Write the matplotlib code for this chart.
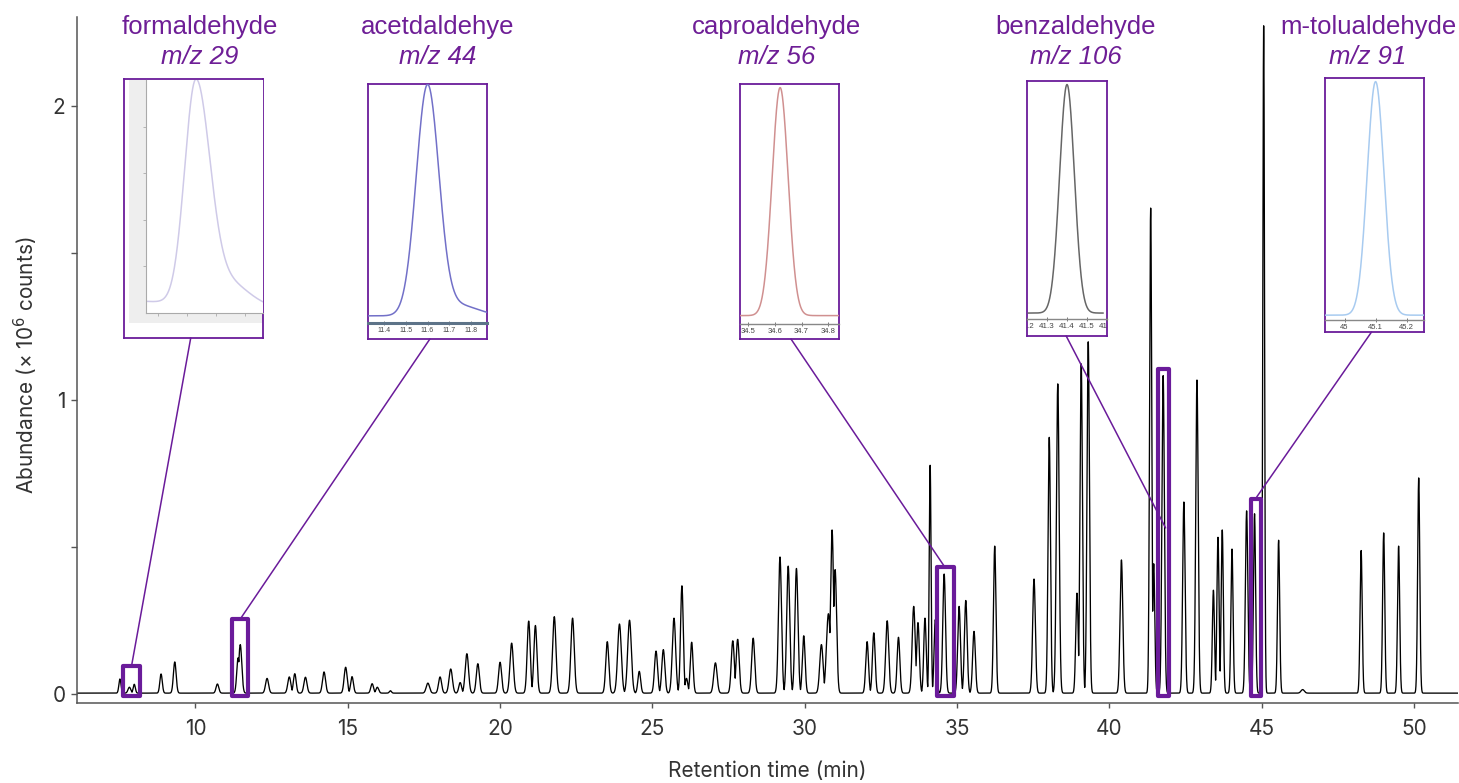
import numpy as np
import matplotlib
matplotlib.use("Agg")
import matplotlib.pyplot as plt
from matplotlib.patches import Rectangle, ConnectionPatch

W, H = 1459, 783
PURPLE = "#6a1b9a"
LABEL_PURPLE = "#6e1e96"

# TIC peaks: retention time (min), apex height (x10^6 counts), width (min)
peak_rt = [7.52, 7.83, 7.99, 8.87, 9.32, 10.72, 11.40, 11.47, 12.35, 13.08,
           13.26, 13.61, 14.22, 14.93, 15.14, 15.80, 15.97, 16.40, 17.63, 18.03,
           18.38, 18.69, 18.91, 19.27, 20.00, 20.38, 20.94, 21.16, 21.78, 22.38,
           23.52, 23.92, 24.25, 24.57, 25.12, 25.36, 25.71, 25.97, 26.12, 26.29,
           27.07, 27.64, 27.80, 28.31, 29.19, 29.46, 29.73, 29.97, 30.55, 30.78,
           30.90, 31.00, 32.05, 32.27, 32.71, 33.08, 33.58, 33.72, 33.95, 34.12,
           34.29, 34.58, 35.07, 35.29, 35.56, 36.24, 37.53, 38.03, 38.31, 38.94,
           39.08, 39.31, 40.40, 41.36, 41.46, 41.77, 42.45, 42.88, 43.42, 43.57,
           43.71, 44.03, 44.51, 44.77, 45.07, 45.56, 46.35, 48.27, 49.01, 49.50,
           50.16]
peak_height = [0.048, 0.020, 0.030, 0.065, 0.106, 0.031, 0.120, 0.165, 0.050, 0.055,
               0.066, 0.054, 0.072, 0.088, 0.056, 0.032, 0.020, 0.008, 0.034, 0.055,
               0.082, 0.036, 0.134, 0.100, 0.105, 0.170, 0.245, 0.230, 0.260, 0.255,
               0.175, 0.235, 0.248, 0.074, 0.143, 0.148, 0.255, 0.365, 0.050, 0.173,
               0.103, 0.178, 0.183, 0.187, 0.463, 0.432, 0.424, 0.195, 0.165, 0.270,
               0.555, 0.420, 0.175, 0.205, 0.246, 0.190, 0.295, 0.240, 0.255, 0.775,
               0.250, 0.405, 0.295, 0.315, 0.210, 0.500, 0.388, 0.870, 1.052, 0.340,
               1.120, 1.195, 0.453, 1.650, 0.440, 1.080, 0.650, 1.065, 0.350, 0.530,
               0.555, 0.490, 0.620, 0.610, 2.270, 0.520, 0.012, 0.485, 0.545, 0.500,
               0.732]
peak_width = [0.035, 0.045, 0.035, 0.040, 0.045, 0.045, 0.045, 0.050, 0.050, 0.050,
              0.045, 0.050, 0.050, 0.050, 0.045, 0.045, 0.045, 0.035, 0.055, 0.050,
              0.055, 0.045, 0.055, 0.050, 0.050, 0.055, 0.050, 0.050, 0.055, 0.055,
              0.050, 0.060, 0.060, 0.045, 0.050, 0.050, 0.055, 0.045, 0.045, 0.045,
              0.055, 0.050, 0.050, 0.050, 0.050, 0.050, 0.050, 0.045, 0.055, 0.065,
              0.050, 0.050, 0.045, 0.045, 0.050, 0.045, 0.050, 0.045, 0.040, 0.030,
              0.040, 0.045, 0.045, 0.045, 0.045, 0.040, 0.045, 0.040, 0.045, 0.040,
              0.040, 0.040, 0.045, 0.035, 0.035, 0.040, 0.040, 0.040, 0.035, 0.035,
              0.035, 0.035, 0.040, 0.035, 0.028, 0.035, 0.055, 0.035, 0.035, 0.035,
              0.035]

# aldehydes with their extracted-ion chromatograms
names = ["formaldehyde", "acetdaldehye", "caproaldehyde", "benzaldehyde", "m-tolualdehyde"]
mz_labels = ["m/z 29", "m/z 44", "m/z 56", "m/z 106", "m/z 91"]
eic_colors = ["#cfcae8", "#7270c8", "#d09090", "#666666", "#a8cbf0"]
# retention windows marked on the TIC
win_start = [7.62, 11.21, 34.33, 41.59, 44.65]
win_end = [8.18, 11.73, 34.89, 41.95, 44.98]
win_top = [0.095, 0.255, 0.432, 1.105, 0.663]
# where each leader line meets the TIC
lead_rt = [7.90, 11.47, 34.60, 41.85, 44.84]
lead_y = [0.095, 0.255, 0.432, 0.565, 0.670]
# EIC peak in each panel
eic_rt = [7.865, 11.60, 34.62, 41.40, 45.10]
eic_sigma = [0.019, 0.052, 0.030, 0.037, 0.027]
eic_base = [0.05, 0.03, 0.035, 0.025, 0.02]
eic_xlim = [(7.78, 7.98), (11.326, 11.874), (34.47, 34.84), (41.207, 41.58), (44.937, 45.256)]
eic_ticks = [[7.8, 7.85, 7.9, 7.95],
             [11.4, 11.5, 11.6, 11.7, 11.8],
             [34.5, 34.6, 34.7, 34.8],
             [41.2, 41.3, 41.4, 41.5, 41.6],
             [45.0, 45.1, 45.2]]
eic_ticklabels = [None,
                  ["11.4", "11.5", "11.6", "11.7", "11.8"],
                  ["34.5", "34.6", "34.7", "34.8"],
                  ["41.2", "41.3", "41.4", "41.5", "41.6"],
                  ["45", "45.1", "45.2"]]

# panel frames and plot areas in pixels (x0, y0, x1, y1)
box_px = [(124, 79, 263, 338), (368, 84, 487, 339), (740, 84, 839, 339),
          (1027, 81, 1107, 336), (1325, 78, 1424, 332)]
area_px = [(146, 80, 263, 313), (368, 84, 487, 323), (740, 84, 839, 324),
           (1027, 81, 1107, 319), (1325, 78, 1424, 320)]
lead_frac = [0.48, 0.52, 0.515, 0.49, 0.47]
label_x = [200, 438, 777, 1076, 1368]
tick_fs = [4, 5, 5.5, 5.8, 5.5]


def px_rect(x0, y0, x1, y1):
    return [x0 / W, 1 - y1 / H, (x1 - x0) / W, (y1 - y0) / H]


fig = plt.figure(figsize=(W / 100, H / 100), dpi=100, facecolor="white")
ax = fig.add_axes(px_rect(77.3, 17, 1458, 702.7))

t = np.arange(6.0, 51.6, 0.002)
tic = np.zeros_like(t)
for rt, h, w in zip(peak_rt, peak_height, peak_width):
    tic = np.maximum(tic, h * np.exp(-0.5 * ((t - rt) / w) ** 2))
tic += 0.003
ax.plot(t, tic, color="black", lw=0.95)

ax.set_xlim(6.12, 51.45)
ax.set_ylim(-0.0296, 2.303)
for side in ["top", "right"]:
    ax.spines[side].set_visible(False)
for side in ["left", "bottom"]:
    ax.spines[side].set_color("#555555")
    ax.spines[side].set_linewidth(1.1)
ax.set_xticks(np.arange(10, 51, 5))
ax.set_yticks([0, 1, 2])
ax.set_yticks([0.5, 1.5], minor=True)
ax.tick_params(axis="x", length=3.5, width=1, color="#555555", pad=8,
               labelsize=15, labelcolor="#333333")
ax.tick_params(axis="y", which="both", length=4.5, width=1, color="#555555", pad=4,
               labelsize=15, labelcolor="#333333")
for lbl in ax.get_xticklabels() + ax.get_yticklabels():
    lbl.set_family("Inter")

fig.text(767 / W, 1 - 771 / H, "Retention time (min)", ha="center", va="center",
         fontsize=15, color="#333333", family="Inter")
fig.text(26 / W, 1 - 365 / H, r"Abundance (× 10$^{6}$ counts)", ha="center", va="center",
         rotation=90, fontsize=15, color="#333333", family="Inter")

for i in range(len(names)):
    # highlighted retention window on the TIC
    ax.add_patch(Rectangle((win_start[i], -0.007), win_end[i] - win_start[i], win_top[i] + 0.007,
                           fill=False, edgecolor=PURPLE, lw=3, joinstyle="round",
                           clip_on=False, zorder=5))

    fig.text(label_x[i] / W, 1 - 27 / H, names[i], ha="center", va="center",
             fontsize=18.5, color=LABEL_PURPLE, family="Liberation Sans")
    fig.text(label_x[i] / W, 1 - 57 / H, mz_labels[i], ha="center", va="center",
             fontsize=18.5, color=LABEL_PURPLE, family="Liberation Sans", style="italic")

    box = fig.add_axes(px_rect(*box_px[i]))
    box.set_xticks([])
    box.set_yticks([])
    box.set_xlim(0, 1)
    box.set_ylim(0, 1)
    box.set_zorder(3)
    for s in box.spines.values():
        s.set_color(PURPLE)
        s.set_linewidth(1.3)

    sub = fig.add_axes(px_rect(*area_px[i]))
    sub.set_zorder(4)
    sub.patch.set_alpha(0)
    x0, x1 = eic_xlim[i]
    xs = np.linspace(x0, x1, 400)
    top = 0.985 - eic_base[i]
    if i == 0:
        # tailing formaldehyde peak
        sig = np.where(xs < eic_rt[i], eic_sigma[i], eic_sigma[i] * 1.25)
        ys = eic_base[i] + top * np.exp(-0.5 * ((xs - eic_rt[i]) / sig) ** 2)
        ys += 0.10 * np.exp(-0.5 * ((xs - 7.92) / 0.035) ** 2)
        ys -= 0.025 * (xs - x0) / (x1 - x0)
    elif i == 1:
        ys = eic_base[i] + top * np.exp(-0.5 * ((xs - eic_rt[i]) / eic_sigma[i]) ** 2)
        ys += 0.045 * np.exp(-0.5 * ((xs - 11.74) / 0.09) ** 2)
    else:
        ys = eic_base[i] + top * np.exp(-0.5 * ((xs - eic_rt[i]) / eic_sigma[i]) ** 2)
    sub.plot(xs, ys, color=eic_colors[i], lw=1.1)
    sub.set_xlim(x0, x1)
    sub.set_ylim(0, 1)
    sub.spines["top"].set_visible(False)
    sub.spines["right"].set_visible(False)
    sub.set_xticks(eic_ticks[i])
    sub.set_yticks([])
    if i == 0:
        # grey frame of the exported EIC view
        box.add_patch(Rectangle((5 / 139, 15 / 259), 134 / 139, 243 / 259,
                                facecolor="#eeeeee", edgecolor="none", zorder=0))
        sub.patch.set_alpha(1)
        sub.patch.set_facecolor("white")
        sub.set_yticks([0.2, 0.4, 0.6, 0.8])
        sub.spines["left"].set_color("#aaaaaa")
        sub.spines["bottom"].set_color("#aaaaaa")
        sub.tick_params(length=2, width=0.6, color="#aaaaaa", labelbottom=False, labelleft=False)
    else:
        sub.spines["left"].set_visible(False)
        axis_color = "#5d7388" if i == 1 else "#888888"
        sub.spines["bottom"].set_color(axis_color)
        sub.spines["bottom"].set_linewidth(2.2 if i == 1 else 1.0)
        sub.set_xticklabels(eic_ticklabels[i])
        sub.tick_params(axis="x", direction="inout", length=3, width=0.6, color="#666666",
                        pad=1.5, labelsize=tick_fs[i], labelcolor="#444444")
        for lbl in sub.get_xticklabels():
            lbl.set_family("Liberation Sans")
            lbl.set_clip_box(box.bbox)
            lbl.set_clip_on(True)

    con = ConnectionPatch(xyA=(lead_frac[i], 0), coordsA=box.transAxes,
                          xyB=(lead_rt[i], lead_y[i]), coordsB=ax.transData,
                          color=PURPLE, lw=1.1, zorder=6)
    fig.add_artist(con)

fig.savefig("out.png", dpi=100, facecolor="white")
